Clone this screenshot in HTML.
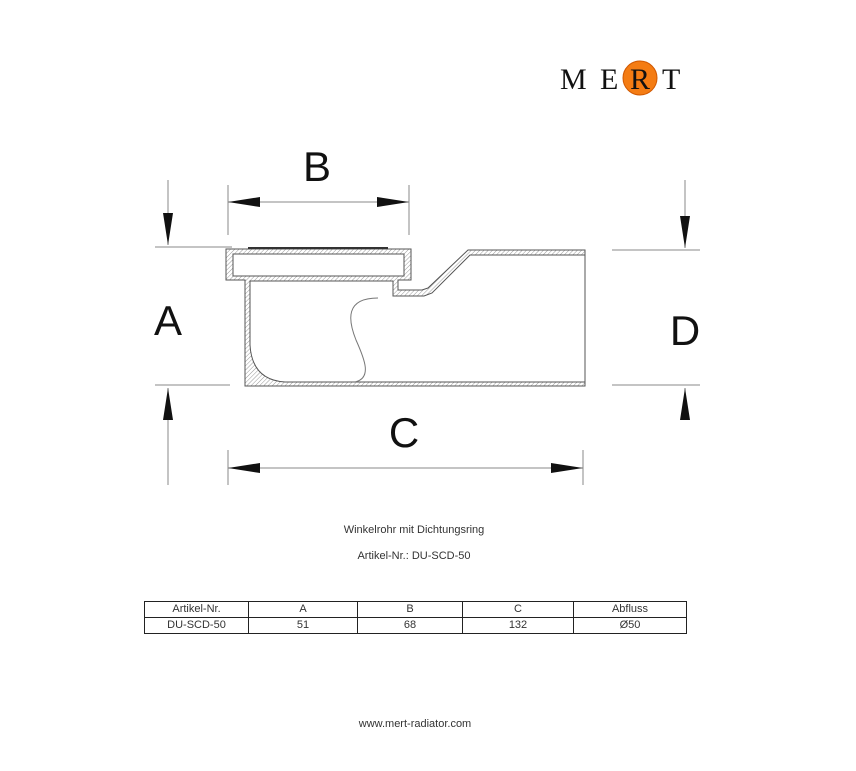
<!DOCTYPE html>
<html><head><style>
body{margin:0;width:856px;height:771px;background:#fff;position:relative;overflow:hidden;font-family:"Liberation Sans",sans-serif}
.t{position:absolute;font-size:11px;color:#333;text-align:center;width:856px;left:0}
table{position:absolute;left:144px;top:601px;border-collapse:collapse;font-size:11px;color:#333}
td{border:1px solid #222;text-align:center;height:15px;padding:0;line-height:15px}
</style></head><body>
<svg width="856" height="771" style="position:absolute;left:0;top:0">
<defs><pattern id="h" width="3" height="3" patternUnits="userSpaceOnUse" patternTransform="rotate(45)"><line x1="0" y1="0" x2="0" y2="3" stroke="#999" stroke-width="1"/></pattern></defs>
<circle cx="640" cy="78" r="17" fill="#f47c13" stroke="#d05800" stroke-width="1"/>
<text x="560" y="89" font-family="Liberation Serif,serif" font-size="30" fill="#111">M</text>
<text x="600" y="89" font-family="Liberation Serif,serif" font-size="30" fill="#111">E</text>
<text x="630" y="89" font-family="Liberation Serif,serif" font-size="30" fill="#111">R</text>
<text x="662" y="89" font-family="Liberation Serif,serif" font-size="30" fill="#111">T</text>
<g stroke="#888" stroke-width="1" fill="none">
<line x1="168" y1="180" x2="168" y2="245"/><line x1="155" y1="247" x2="232" y2="247"/>
<line x1="155" y1="385" x2="230" y2="385"/><line x1="168" y1="388" x2="168" y2="485"/>
<line x1="228" y1="185" x2="228" y2="235"/><line x1="409" y1="185" x2="409" y2="235"/>
<line x1="228" y1="202" x2="409" y2="202"/>
<line x1="228" y1="450" x2="228" y2="485"/><line x1="583" y1="450" x2="583" y2="485"/>
<line x1="228" y1="468" x2="583" y2="468"/>
<line x1="685" y1="180" x2="685" y2="248"/><line x1="612" y1="250" x2="700" y2="250"/>
<line x1="612" y1="385" x2="700" y2="385"/><line x1="685" y1="388" x2="685" y2="420"/>
</g>
<g fill="#111">
<polygon points="163,213 173,213 168,245"/><polygon points="163,420 173,420 168,388"/>
<polygon points="228,202 260,197 260,207"/><polygon points="409,202 377,197 377,207"/>
<polygon points="228,468 260,463 260,473"/><polygon points="583,468 551,463 551,473"/>
<polygon points="680,216 690,216 685,248"/><polygon points="680,420 690,420 685,388"/>
</g>
<g font-size="42" fill="#111" text-anchor="middle">
<text x="317" y="181">B</text><text x="168" y="335">A</text>
<text x="404" y="447">C</text><text x="685" y="345">D</text>
</g>
<g stroke="#555" stroke-width="1">
<path d="M226,249 L411,249 L411,280 L398,280 L398,290 L422,290 L428,288 L468,250 L585,250 L585,386 L245,386 L245,280 L226,280 Z" fill="url(#h)"/>
<path d="M250,281 L393,281 L393,296 L424,296 L432,293 L470,255 L585,255 L585,382 L285,382 Q252,380 250,345 Z" fill="#fff"/>
<path d="M233,254 L404,254 L404,276 L233,276 Z" fill="#fff"/>
<path d="M248,248 L388,248" stroke="#333" stroke-width="2"/>
<path d="M378,298 C345,298 348,320 356,340 C365,360 372,378 355,382" fill="none" stroke="#777"/>
</g>
</svg>
<div class="t" style="top:524px;left:-14px">Winkelrohr mit Dichtungsring</div>
<div class="t" style="top:550px;left:-14px">Artikel-Nr.: DU-SCD-50</div>
<table>
<tr><td style="width:103px">Artikel-Nr.</td><td style="width:108px">A</td><td style="width:104px">B</td><td style="width:110px">C</td><td style="width:112px">Abfluss</td></tr>
<tr><td>DU-SCD-50</td><td>51</td><td>68</td><td>132</td><td>Ø50</td></tr>
</table>
<div class="t" style="top:718px;left:-13px">www.mert-radiator.com</div>
</body></html>
